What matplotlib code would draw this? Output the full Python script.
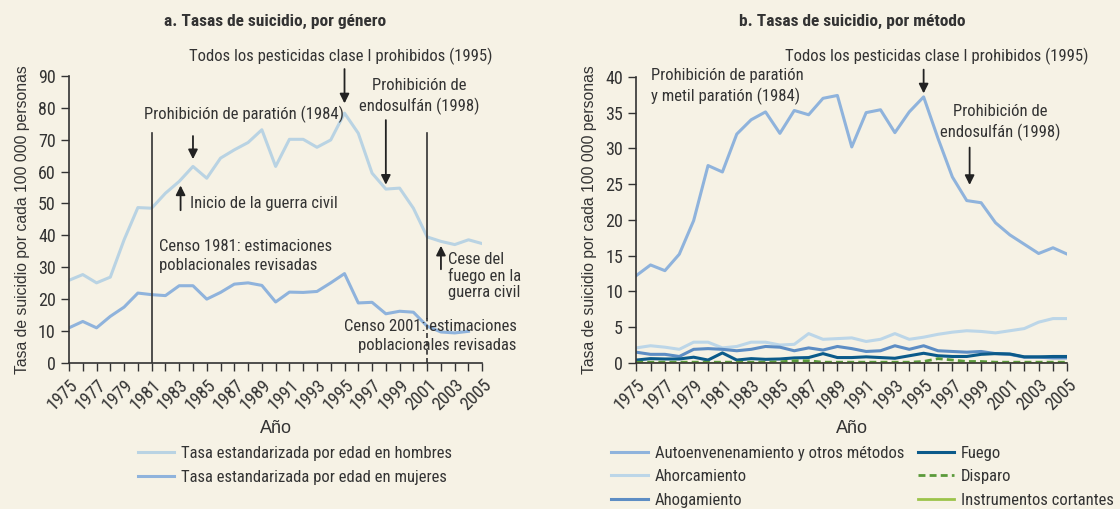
import matplotlib
matplotlib.use("Agg")
import matplotlib.pyplot as plt
from matplotlib import font_manager

# buscar una fuente estrecha instalada
fuentes = font_manager.fontManager.ttflist
nombres = sorted({f.name for f in fuentes})
estrechas = [n for n in nombres if 'Narrow' in n or 'Condensed' in n]
noto_cond = [f for f in fuentes if f.name == 'Noto Sans' and 'condensed' in str(f.stretch)]
if 'Liberation Sans Narrow' in nombres:
    fuente, estiramiento = 'Liberation Sans Narrow', 'normal'
elif 'Roboto Condensed' in nombres:
    fuente, estiramiento = 'Roboto Condensed', 'normal'
elif noto_cond:
    fuente, estiramiento = 'Noto Sans', 'condensed'
elif estrechas:
    fuente, estiramiento = estrechas[0], 'normal'
else:
    fuente, estiramiento = 'Roboto', 'normal'

plt.rcParams['font.family'] = [fuente, 'DejaVu Sans']
plt.rcParams['font.stretch'] = estiramiento

# datos
anios = list(range(1975, 2006))
hombres = [25.9, 27.7, 25.1, 26.9, 38.6, 48.7, 48.5, 53.2, 56.9, 61.6, 57.9, 64.2, 66.8, 69.1, 73.1,
           61.6, 70.1, 70.1, 67.6, 69.9, 78.3, 72.0, 59.5, 54.5, 54.8, 48.5, 39.5, 38.1, 37.1, 38.6, 37.4]
anios_mujeres = list(range(1975, 2005))
mujeres = [11.0, 13.0, 11.0, 14.6, 17.5, 21.9, 21.4, 21.1, 24.2, 24.2, 20.0, 22.1, 24.7, 25.1, 24.3,
           19.1, 22.2, 22.1, 22.4, 25.1, 28.0, 18.8, 19.0, 15.4, 16.2, 15.9, 11.5, 9.7, 9.4, 9.9]

autoenvenenamiento = [12.2, 13.7, 12.9, 15.2, 19.9, 27.6, 26.7, 32.0, 34.0, 35.1, 32.1, 35.3, 34.7, 37.0, 37.4,
                      30.2, 35.0, 35.4, 32.2, 35.1, 37.2, 31.4, 26.0, 22.7, 22.4, 19.6, 17.9, 16.6, 15.3, 16.1, 15.2]
ahorcamiento = [2.1, 2.4, 2.2, 1.9, 2.9, 2.9, 2.1, 2.3, 2.9, 2.9, 2.5, 2.6, 4.1, 3.3, 3.4,
                3.5, 3.0, 3.3, 4.1, 3.3, 3.6, 4.0, 4.3, 4.5, 4.4, 4.2, 4.5, 4.8, 5.7, 6.2, 6.2]
ahogamiento = [1.5, 1.2, 1.2, 0.9, 1.9, 2.0, 1.9, 1.7, 1.9, 2.3, 2.2, 1.7, 2.1, 1.8, 2.3,
               2.0, 1.6, 1.7, 2.4, 1.9, 2.4, 1.7, 1.6, 1.5, 1.6, 1.3, 1.2, 0.8, 0.8, 0.7, 0.7]
fuego = [0.4, 0.6, 0.55, 0.55, 0.8, 0.4, 1.4, 0.4, 0.6, 0.5, 0.55, 0.7, 0.75, 1.3, 0.75,
         0.75, 0.85, 0.75, 0.65, 1.0, 1.35, 1.0, 0.9, 0.9, 1.2, 1.3, 1.25, 0.85, 0.85, 0.9, 0.9]
disparo = [0.1, 0.1, 0.1, 0.1, 0.1, 0.1, 0.1, 0.1, 0.1, 0.1, 0.15, 0.3, 0.3, 0.1, 0.1,
           0.1, 0.1, 0.1, 0.1, 0.1, 0.2, 0.6, 0.4, 0.2, 0.2, 0.1, 0.1, 0.1, 0.1, 0.1, 0.1]
cortantes = [0.05] * 31

fondo = '#f6f2e5'
gris = '#333333'
c_hombres = '#b9d3e3'
c_mujeres = '#8fb3dc'

fig = plt.figure(figsize=(11.2, 5.09), dpi=100, facecolor=fondo)
ax1 = fig.add_axes([0.0616, 0.287, 0.369, 0.564], facecolor=fondo)
ax2 = fig.add_axes([0.568, 0.287, 0.385, 0.562], facecolor=fondo)

l1, = ax1.plot(anios, hombres, color=c_hombres, lw=2.2, label='Tasa estandarizada por edad en hombres')
l2, = ax1.plot(anios_mujeres, mujeres, color=c_mujeres, lw=2.2, label='Tasa estandarizada por edad en mujeres')

m1, = ax2.plot(anios, autoenvenenamiento, color='#8fb3dc', lw=2.2, label='Autoenvenenamiento y otros métodos')
m2, = ax2.plot(anios, ahorcamiento, color='#bcd6e8', lw=2.2, label='Ahorcamiento')
m3, = ax2.plot(anios, ahogamiento, color='#5d8dc4', lw=2.2, label='Ahogamiento')
m4, = ax2.plot(anios, fuego, color='#0b5a8a', lw=2.2, label='Fuego')
m5, = ax2.plot(anios, disparo, color='#5a9a3a', lw=2.0, ls=(0, (2.5, 1.5)), label='Disparo')
m6, = ax2.plot(anios, cortantes, color='#9cc34a', lw=2.0, label='Instrumentos cortantes')

for ax, top in [(ax1, 90), (ax2, 40)]:
    ax.set_xlim(1975, 2005)
    ax.set_ylim(0, top)
    ax.spines['top'].set_visible(False)
    ax.spines['right'].set_visible(False)
    for s in ['left', 'bottom']:
        ax.spines[s].set_color(gris)
        ax.spines[s].set_linewidth(1.2)
    ax.set_xticks(anios, minor=True)
    ax.set_xticks(list(range(1975, 2006, 2)))
    ax.set_xticklabels([str(a) for a in range(1975, 2006, 2)], rotation=45, ha='right',
                       rotation_mode='anchor', fontsize=13, color=gris)
    ax.tick_params(axis='x', which='both', length=6, width=1, color=gris, direction='out')
    ax.tick_params(axis='y', length=6, width=1, color=gris, labelsize=13, labelcolor=gris)
    ax.set_xlabel('Año', fontsize=13, color=gris, family=['Liberation Sans', 'DejaVu Sans'],
                  stretch='normal', labelpad=4)
    ax.set_ylabel('Tasa de suicidio por cada 100 000 personas', fontsize=11.3, color=gris,
                  family=['Liberation Sans', 'DejaVu Sans'], stretch='normal', labelpad=6)

ax1.set_yticks(range(0, 91, 10))
ax2.set_yticks(range(0, 41, 5))

fig.text(0.246, 0.957, 'a. Tasas de suicidio, por género', ha='center', va='center',
         fontsize=12.5, color=gris, fontweight='semibold')
fig.text(0.761, 0.957, 'b. Tasas de suicidio, por método', ha='center', va='center',
         fontsize=12.5, color=gris, fontweight='semibold')

txt = dict(fontsize=12, color=gris)
flecha = dict(arrowstyle='-|>', color='#222222', lw=1.3, mutation_scale=14)

# anotaciones panel a
ax1.plot([1981, 1981], [0, 72], color=gris, lw=1.2)
ax1.plot([2001, 2001], [14, 72], color=gris, lw=1.2)
ax1.plot([2001, 2001], [0, 14], color=gris, lw=1.2, ls=(0, (3, 2)))
ax1.text(1994.75, 96.2, 'Todos los pesticidas clase I prohibidos (1995)', ha='center', va='center',
         clip_on=False, **txt)
ax1.annotate('', xy=(1995, 80.5), xytext=(1995, 93), arrowprops=flecha, annotation_clip=False)
ax1.text(1987.7, 78, 'Prohibición de paratión (1984)', ha='center', va='center', **txt)
ax1.annotate('', xy=(1984, 63), xytext=(1984, 72), arrowprops=flecha)
ax1.text(2000.4, 83.5, 'Prohibición de\nendosulfán (1998)', ha='center', va='center',
         linespacing=1.35, **txt)
ax1.annotate('', xy=(1998, 55), xytext=(1998, 77), arrowprops=flecha)
ax1.text(1983.8, 50, 'Inicio de la guerra civil', ha='left', va='center', **txt)
ax1.annotate('', xy=(1983.1, 56.5), xytext=(1983.1, 47), arrowprops=flecha)
ax1.text(1981.5, 33.5, 'Censo 1981: estimaciones\npoblacionales revisadas', ha='left', va='center',
         linespacing=1.35, **txt)
ax1.text(2002.5, 27.3, 'Cese del\nfuego en la\nguerra civil', ha='left', va='center',
         linespacing=1.08, clip_on=False, **txt)
ax1.annotate('', xy=(2002, 37.6), xytext=(2002, 28.5), arrowprops=flecha)
ax1.text(2007.5, 8.5, 'Censo 2001: estimaciones\npoblacionales revisadas', ha='right', va='center',
         linespacing=1.35, clip_on=False, **txt)

# anotaciones panel b
ax2.text(1995.9, 42.9, 'Todos los pesticidas clase I prohibidos (1995)', ha='center', va='center',
         clip_on=False, **txt)
ax2.annotate('', xy=(1995, 37.3), xytext=(1995, 41.4), arrowprops=flecha, annotation_clip=False)
ax2.text(1976.0, 38.65, 'Prohibición de paratión\ny metil paratión (1984)', ha='left', va='center',
         linespacing=1.35, **txt)
ax2.text(2000.3, 33.6, 'Prohibición de\nendosulfán (1998)', ha='center', va='center',
         linespacing=1.35, **txt)
ax2.annotate('', xy=(1998.2, 24.5), xytext=(1998.2, 30.5), arrowprops=flecha)

# leyendas
fig.legend(handles=[l1, l2], loc='upper left', bbox_to_anchor=(0.117, 0.137), frameon=False,
           fontsize=12, labelcolor=gris, handlelength=2.2, handletextpad=0.4, labelspacing=0.55,
           borderaxespad=0)
fig.legend(handles=[m1, m2, m3, m4, m5, m6], loc='upper left', bbox_to_anchor=(0.540, 0.137), ncol=2,
           frameon=False, fontsize=12, labelcolor=gris, handlelength=2.2, handletextpad=0.4,
           labelspacing=0.5, columnspacing=0.8, borderaxespad=0)

fig.savefig('out.png', dpi=100, facecolor=fondo)
